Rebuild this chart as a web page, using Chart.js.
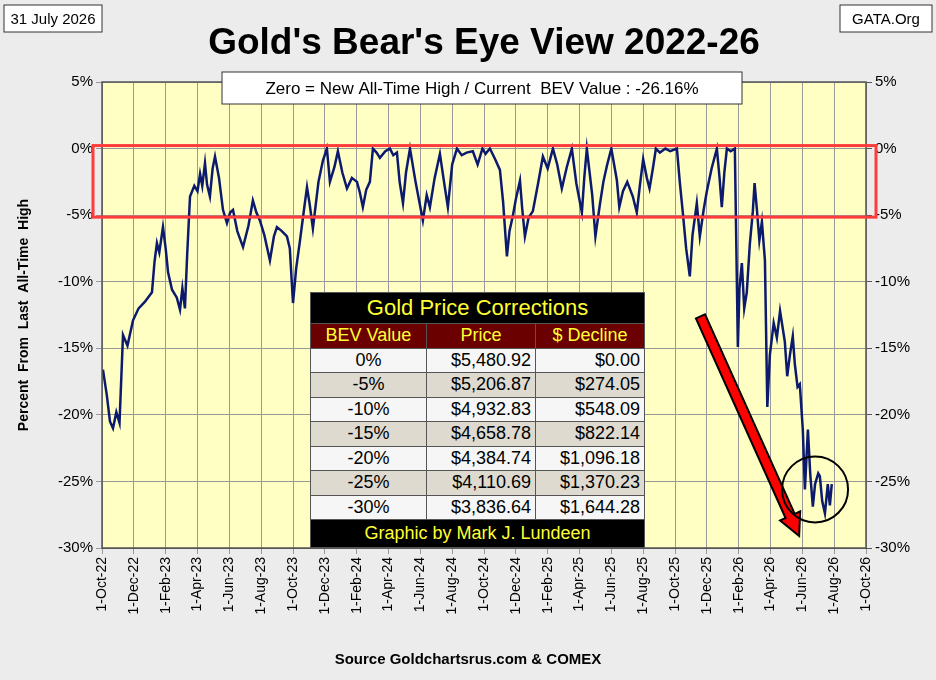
<!DOCTYPE html>
<html><head><meta charset="utf-8">
<script src="https://cdn.jsdelivr.net/npm/chart.js@4"></script>
<style>
body{margin:0;background:#ececec;font-family:"Liberation Sans",Arial,sans-serif}
#wrap{position:relative;width:936px;height:680px}
#tbl{position:absolute;left:310px;top:292px;width:335px;border-collapse:collapse;font-size:18px}
#tbl td{border:1px solid #555;padding:0 4px;height:23.5px}
</style></head><body>
<div id="wrap"><canvas id="chart1" width="936" height="680"></canvas>
<table id="tbl"></table></div>
<script>
// month offset from 1-Oct-22 and BEV percent
const months = [0.06,0.3,0.5,0.69,0.9,1.1,1.32,1.6,1.95,2.3,2.7,3.14,3.3,3.45,3.6,3.83,4.0,4.15,4.4,4.7,4.9,5.05,5.21,5.35,5.53,5.8,6.0,6.16,6.3,6.47,6.6,6.78,6.95,7.1,7.35,7.6,7.85,8.05,8.23,8.5,8.86,9.2,9.48,9.7,9.92,10.2,10.55,10.8,10.99,11.3,11.62,11.8,12.0,12.2,12.44,12.7,12.88,13.05,13.25,13.6,13.88,14.13,14.32,14.6,14.82,15.1,15.39,15.7,16.02,16.2,16.39,16.6,16.83,17.02,17.25,17.46,17.8,18.09,18.3,18.53,18.7,18.91,19.1,19.35,19.7,20.16,20.4,20.6,20.9,21.23,21.5,21.73,22.0,22.3,22.6,22.9,23.3,23.6,23.9,24.1,24.37,24.7,25.0,25.2,25.44,25.6,25.82,26.0,26.26,26.4,26.57,26.8,27.07,27.4,27.7,28.0,28.33,28.6,28.89,29.2,29.52,29.8,30.15,30.3,30.46,30.8,31.0,31.28,31.5,31.72,32.0,32.35,32.5,32.73,33.0,33.35,33.6,33.79,34.0,34.23,34.4,34.61,34.8,35.05,35.4,35.7,36.12,36.3,36.49,36.7,36.93,37.1,37.37,37.56,37.8,38.0,38.3,38.63,38.8,38.94,39.1,39.26,39.5,39.76,39.95,40.05,40.2,40.35,40.51,40.7,40.89,41.0,41.14,41.3,41.46,41.65,41.8,41.96,42.2,42.4,42.6,42.9,43.05,43.22,43.4,43.53,43.7,43.84,44.03,44.16,44.35,44.5,44.66,44.8,45.0,45.1,45.25,45.42,45.6,45.73,45.85];
const bev = [-16.6,-18.5,-20.5,-21,-19.8,-20.6,-14,-14.8,-12.9,-12,-11.5,-10.8,-8.5,-7.1,-7.8,-5.9,-7.5,-9.3,-10.6,-11.2,-12.1,-10.5,-12,-8,-3.6,-2.8,-3.2,-1.9,-2.8,-1.1,-2.7,-3.6,-1.5,-0.6,-2.2,-4.6,-5.6,-4.8,-4.6,-6.2,-7.4,-5.8,-3.9,-4.8,-5.4,-6.5,-8.4,-6.6,-5.9,-6.2,-6.6,-7.5,-11.6,-9,-6.9,-4.5,-2.9,-4.2,-6,-2.5,-0.9,0,-2.5,-1.4,-0.2,-1.8,-3,-2.2,-2.5,-3.3,-4.4,-3.1,-2.5,0,-0.3,-0.7,-0.2,0,-0.5,-0.3,-2.5,-4.1,-1.8,0,-2.5,-5.4,-3.5,-4.4,-2.2,-0.4,-2.6,-4.4,-1.2,0,-0.5,-0.3,-0.2,-1.2,0,-0.4,0,-0.8,-1.6,-4,-8.1,-6.2,-5,-3.8,-2.4,-4.5,-6.6,-5.2,-4.7,-2.6,-0.6,-1.5,0,-1.2,-3,-1.4,0,-2.6,-4.8,-2.2,0,-3.5,-6.6,-4.2,-2.5,-1.3,0,-2.4,-4.4,-3.2,-2.5,-3.6,-4.8,-2.8,-0.8,-2.2,-3,-1.5,0,-0.3,0,-0.2,0,-2.5,-4.8,-7.5,-9.6,-6.5,-4.1,-6.6,-4.6,-3.2,-1.5,0,-2.2,-4.4,-1.8,0,-0.2,0,-14.9,-10.5,-8.6,-12,-10.8,-7.2,-4.7,-2.6,-4.5,-6.9,-5.5,-8.4,-19.4,-15.5,-13.1,-14.2,-12.2,-14.5,-17.1,-15.5,-14.1,-16.2,-17.9,-17.7,-21.1,-25.6,-21.1,-24.5,-26.9,-25.2,-24.4,-24.6,-26.5,-27.4,-25.2,-26.8,-25.2,-26.2];
const tickLabels = ["1-Oct-22","1-Dec-22","1-Feb-23","1-Apr-23","1-Jun-23","1-Aug-23","1-Oct-23","1-Dec-23","1-Feb-24","1-Apr-24","1-Jun-24","1-Aug-24","1-Oct-24","1-Dec-24","1-Feb-25","1-Apr-25","1-Jun-25","1-Aug-25","1-Oct-25","1-Dec-25","1-Feb-26","1-Apr-26","1-Jun-26","1-Aug-26","1-Oct-26"];
const tblBev = ["0%","-5%","-10%","-15%","-20%","-25%","-30%"];
const tblPrice = ["$5,480.92","$5,206.87","$4,932.83","$4,658.78","$4,384.74","$4,110.69","$3,836.64"];
const tblDecline = ["$0.00","$274.05","$548.09","$822.14","$1,096.18","$1,370.23","$1,644.28"];

const FONT = "'Liberation Sans', Arial, sans-serif";

// table overlay
let h = '<tr><td colspan="3" style="background:#000;color:#ffff33;text-align:center;font-size:22px;height:30px">Gold Price Corrections</td></tr>';
h += '<tr style="background:#6b0000;color:#ffff33;text-align:center"><td>BEV Value</td><td>Price</td><td>$ Decline</td></tr>';
tblBev.forEach((b, i) => {
  const bg = i % 2 ? "#dedad0" : "#f6f6f6";
  h += `<tr style="background:${bg}"><td style="text-align:center">${b}</td><td style="text-align:right">${tblPrice[i]}</td><td style="text-align:right">${tblDecline[i]}</td></tr>`;
});
h += '<tr><td colspan="3" style="background:#000;color:#ffff33;text-align:center;height:27px">Graphic by Mark J. Lundeen</td></tr>';
document.getElementById("tbl").innerHTML = h;

const deco = {
  id: "deco",
  beforeDraw(c) {
    const a = c.chartArea, ctx = c.ctx;
    ctx.save();
    ctx.fillStyle = "#ffffc4";
    ctx.fillRect(a.left, a.top, a.right - a.left, a.bottom - a.top);
    ctx.restore();
  },
  afterDraw(c) {
    const ctx = c.ctx, x = c.scales.x, y = c.scales.y;
    ctx.save();
    // frame
    ctx.strokeStyle = "#555"; ctx.lineWidth = 1.5;
    ctx.strokeRect(c.chartArea.left, c.chartArea.top, c.chartArea.right - c.chartArea.left, c.chartArea.bottom - c.chartArea.top);
    // red band 0 to -5
    ctx.strokeStyle = "#ff3c3c"; ctx.lineWidth = 3;
    ctx.strokeRect(93, y.getPixelForValue(0) - 3, 783, y.getPixelForValue(-5) - y.getPixelForValue(0) + 5);
    // title
    ctx.fillStyle = "#000"; ctx.textAlign = "center"; ctx.textBaseline = "middle";
    ctx.font = "bold 37px " + FONT;
    ctx.fillText("Gold's Bear's Eye View 2022-26", 484, 44);
    // boxes
    const box = (x0, y0, w, hh, t, f) => {
      ctx.fillStyle = "#fff"; ctx.fillRect(x0, y0, w, hh);
      ctx.strokeStyle = "#333"; ctx.lineWidth = 1; ctx.strokeRect(x0, y0, w, hh);
      ctx.fillStyle = "#000"; ctx.font = f; ctx.fillText(t, x0 + w / 2, y0 + hh / 2 + 1);
    };
    box(4, 5, 98, 27, "31 July 2026", "15px " + FONT);
    box(840, 5, 92, 27, "GATA.Org", "15px " + FONT);
    box(222, 72, 520, 32, "Zero = New All-Time High / Current  BEV Value : -26.16%", "17px " + FONT);
    ctx.font = "bold 15px " + FONT;
    ctx.fillText("Source Goldchartsrus.com & COMEX", 468, 660);
    // arrow
    const x1 = x.getPixelForValue(37.6), y1 = y.getPixelForValue(-12.6);
    const x2 = x.getPixelForValue(43.8), y2 = y.getPixelForValue(-29.1);
    const ang = Math.atan2(y2 - y1, x2 - x1);
    const px = -Math.sin(ang), py = Math.cos(ang);
    const hl = 22, sw = 5, hw = 11;
    const bx = x2 - Math.cos(ang) * hl, by = y2 - Math.sin(ang) * hl;
    ctx.beginPath();
    ctx.moveTo(x1 + px * sw, y1 + py * sw);
    ctx.lineTo(bx + px * sw, by + py * sw);
    ctx.lineTo(bx + px * hw, by + py * hw);
    ctx.lineTo(x2, y2);
    ctx.lineTo(bx - px * hw, by - py * hw);
    ctx.lineTo(bx - px * sw, by - py * sw);
    ctx.lineTo(x1 - px * sw, y1 - py * sw);
    ctx.closePath();
    ctx.fillStyle = "#ff0000"; ctx.fill();
    ctx.strokeStyle = "#000"; ctx.lineWidth = 2; ctx.stroke();
    // circle
    ctx.beginPath();
    ctx.arc(x.getPixelForValue(44.8), y.getPixelForValue(-25.6), 33, 0, Math.PI * 2);
    ctx.lineWidth = 2; ctx.stroke();
    ctx.restore();
  }
};

const myChart1 = new Chart(document.getElementById("chart1"), {
  type: "line",
  data: {
    datasets: [{
      data: months.map((m, i) => ({ x: m, y: bev[i] })),
      borderColor: "#0c1a6e",
      borderWidth: 2.5,
      pointRadius: 0,
      tension: 0,
    }],
  },
  options: {
    responsive: false,
    animation: false,
    layout: { padding: { top: 82, left: 12, right: 0, bottom: 0 } },
    plugins: { legend: { display: false }, tooltip: { enabled: false } },
    scales: {
      x: {
        type: "linear", min: 0, max: 48,
        afterFit: (s) => { s.height = 132; },
        afterBuildTicks: (s) => { s.ticks = tickLabels.map((t, i) => ({ value: i * 2 })); },
        ticks: {
          minRotation: 90, maxRotation: 90, color: "#000",
          font: { family: FONT, size: 14 },
          callback: (v) => tickLabels[v / 2],
        },
        grid: { color: "#999", tickLength: 6 },
        border: { color: "#555" },
      },
      y: {
        min: -30, max: 5,
        afterFit: (s) => { s.width = 90; },
        ticks: { stepSize: 5, color: "#000", font: { family: FONT, size: 15 }, callback: (v) => v + "%" },
        grid: { color: "#999", tickLength: 6 },
        title: { display: true, text: "Percent  From  Last  All-Time  High", color: "#000", font: { family: FONT, size: 14, weight: "bold" } },
      },
      y2: {
        position: "right", min: -30, max: 5,
        afterFit: (s) => { s.width = 70; },
        ticks: { stepSize: 5, color: "#000", font: { family: FONT, size: 15 }, callback: (v) => v + "%" },
        grid: { drawOnChartArea: false, tickLength: 6, color: "#555" },
      },
    },
  },
  plugins: [deco],
});
</script></body></html>
